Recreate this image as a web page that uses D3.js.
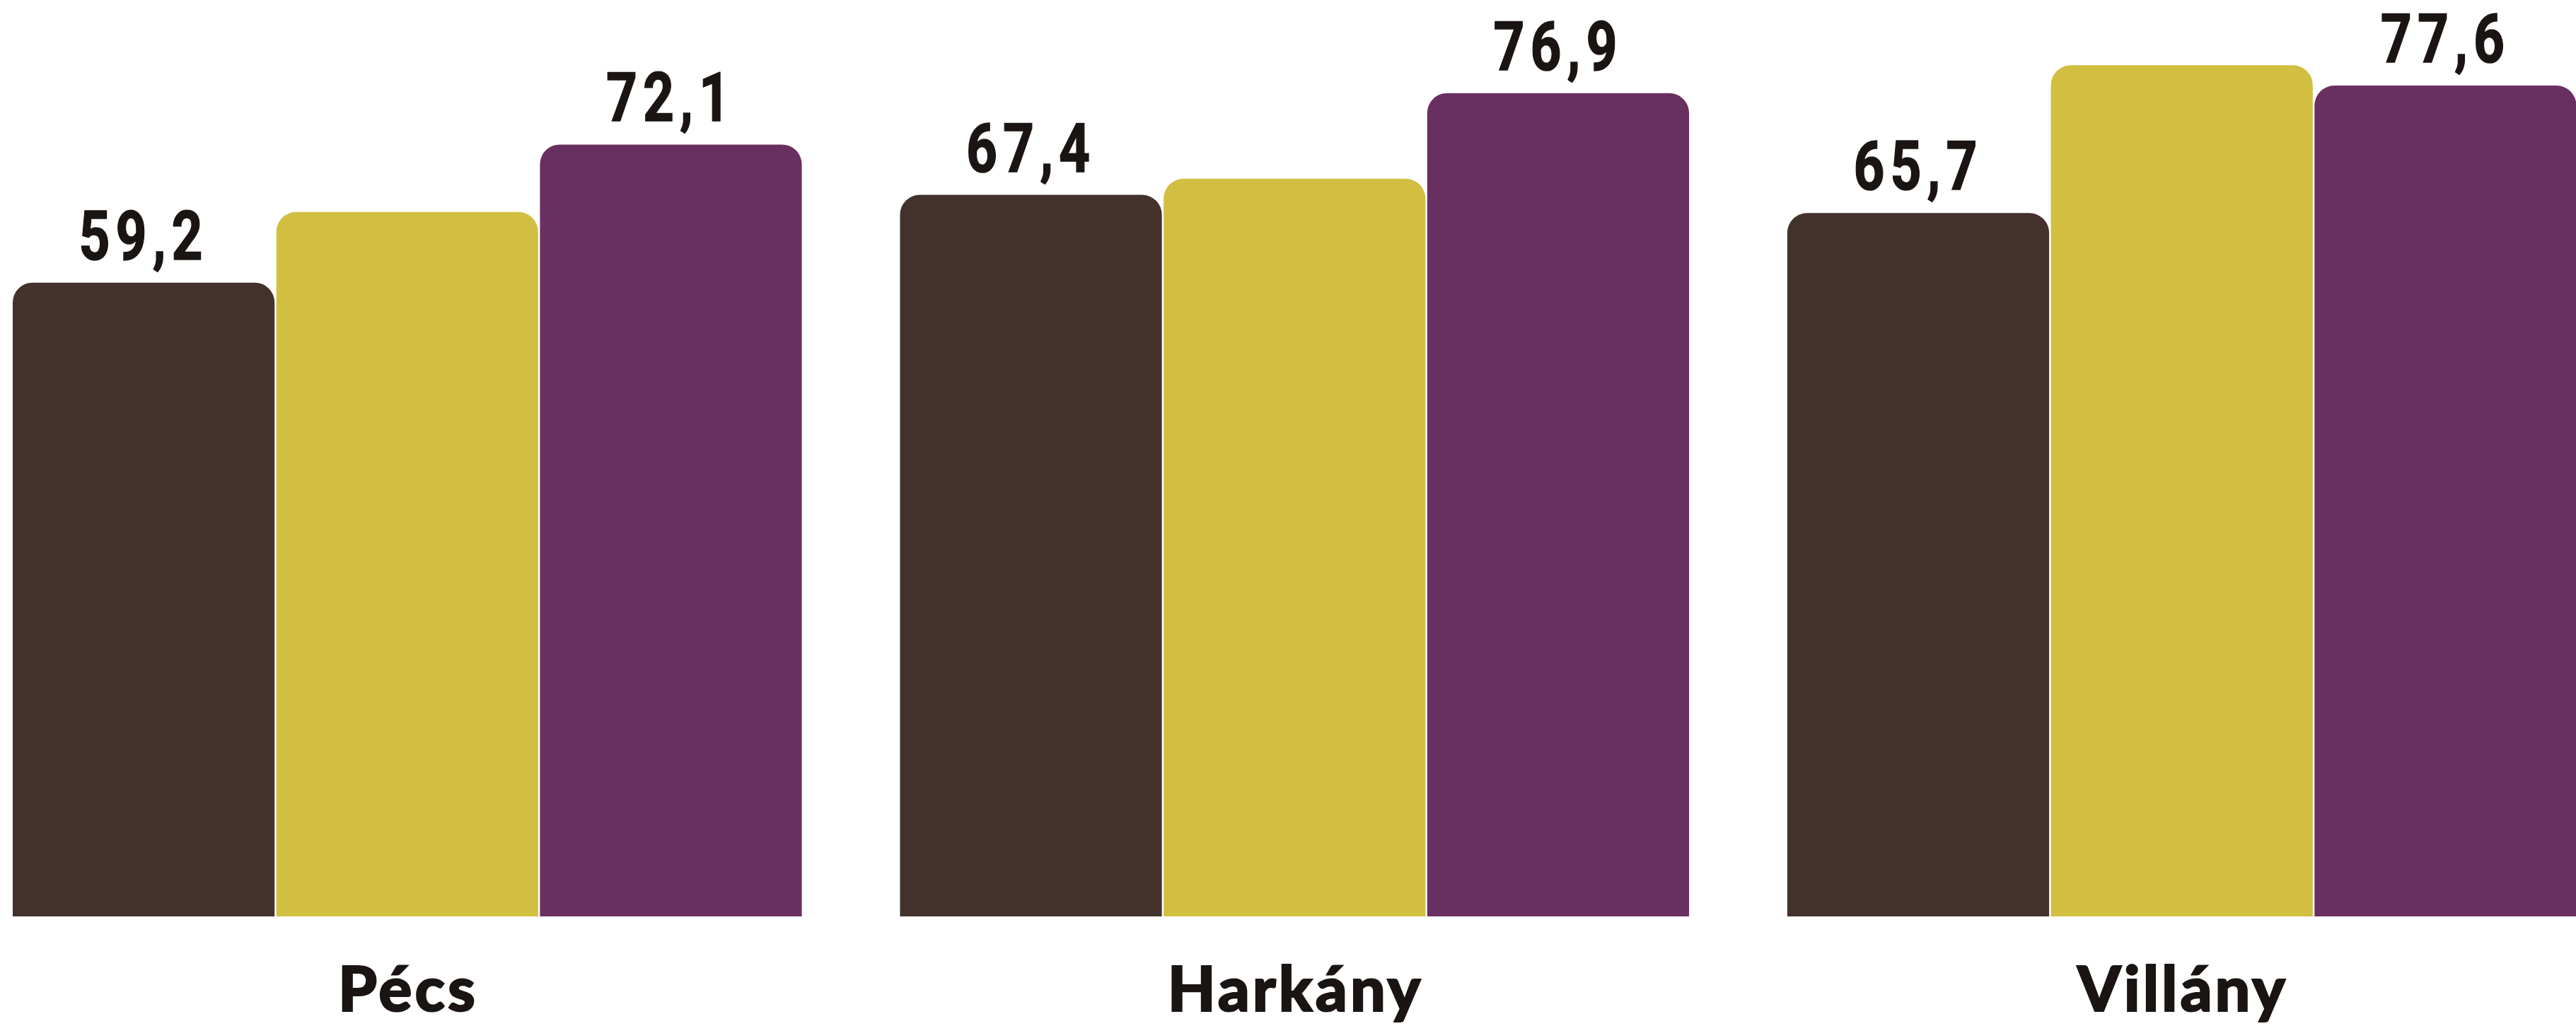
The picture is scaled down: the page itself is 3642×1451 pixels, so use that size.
<!DOCTYPE html>
<html>
<head>
<meta charset="utf-8">
<script src="https://cdn.jsdelivr.net/npm/d3@7"></script>
<style>
  html, body { margin: 0; padding: 0; background: #ffffff; }
  svg { display: block; }
</style>
</head>
<body>
<svg id="chart" width="3642" height="1451"></svg>
<script>
// ---- data ----
const categories = ["Pécs", "Harkány", "Villány"];
const seriesKeys = ["s1", "s2", "s3"];
const seriesColors = ["#43322c", "#d2bf41", "#6a2f61"];
const showLabel = [true, false, true];
const values_s1 = [59.2, 67.4, 65.7];
const values_s2 = [65.8, 68.9, 79.5];
const values_s3 = [72.1, 76.9, 77.6];

const seriesValues = [values_s1, values_s2, values_s3];

// ---- layout ----
const baseY = 1296;
const svg = d3.select("#chart");

const x0 = d3.scaleBand()
  .domain(categories)
  .range([18, 3645])
  .paddingInner(0.1087)
  .paddingOuter(0);

const x1 = d3.scaleBand()
  .domain(seriesKeys)
  .range([0, x0.bandwidth()])
  .padding(0);

const y = d3.scaleLinear()
  .domain([0, 85.6])
  .range([baseY, 0]);

const locale = d3.formatLocale({decimal: ",", thousands: " ", grouping: [3], currency: ["", ""]});
const fmt = locale.format(".1f");

const gap = 2.5;
const r = 28;
function topRounded(x, yTop, w, yBottom, rad) {
  const rr = Math.min(rad, w / 2, (yBottom - yTop));
  return `M${x},${yBottom}` +
    `L${x},${yTop + rr}` +
    `A${rr},${rr} 0 0 1 ${x + rr},${yTop}` +
    `L${x + w - rr},${yTop}` +
    `A${rr},${rr} 0 0 1 ${x + w},${yTop + rr}` +
    `L${x + w},${yBottom}Z`;
}

const rows = [];
categories.forEach((c, ci) => {
  seriesKeys.forEach((k, si) => {
    rows.push({cat: c, key: k, si, value: seriesValues[si][ci]});
  });
});

const g = svg.append("g");

g.selectAll("path.bar")
  .data(rows)
  .join("path")
  .attr("class", "bar")
  .attr("fill", d => seriesColors[d.si])
  .attr("d", d => {
    const bx = x0(d.cat) + x1(d.key);
    const bw = x1.bandwidth() - gap;
    return topRounded(bx, y(d.value), bw, y(0), r);
  });

const sx = 0.8;
g.selectAll("text.val")
  .data(rows.filter(d => showLabel[d.si]))
  .join("text")
  .attr("class", "val")
  .attr("transform", d => {
    const cx = x0(d.cat) + x1(d.key) + (x1.bandwidth() - gap) / 2;
    return `translate(${cx},${y(d.value) - 33}) scale(${sx},1)`;
  })
  .attr("text-anchor", "middle")
  .attr("font-family", "Roboto, 'DejaVu Sans', sans-serif")
  .attr("font-weight", 700)
  .attr("font-size", 96)
  .attr("letter-spacing", 10)
  .attr("stroke", "#1a1512")
  .attr("stroke-width", 1.5)
  .attr("fill", "#1a1512")
  .text(d => fmt(d.value));

g.selectAll("text.cat")
  .data(categories)
  .join("text")
  .attr("class", "cat")
  .attr("x", d => x0(d) + x0.bandwidth() / 2)
  .attr("y", 1430)
  .attr("text-anchor", "middle")
  .attr("font-family", "Lato, 'Open Sans', sans-serif")
  .attr("font-weight", 900)
  .attr("font-size", 88)
  .attr("letter-spacing", 4)
  .attr("stroke", "#1a1512")
  .attr("stroke-width", 2)
  .attr("fill", "#1a1512")
  .text(d => d);
</script>
</body>
</html>
